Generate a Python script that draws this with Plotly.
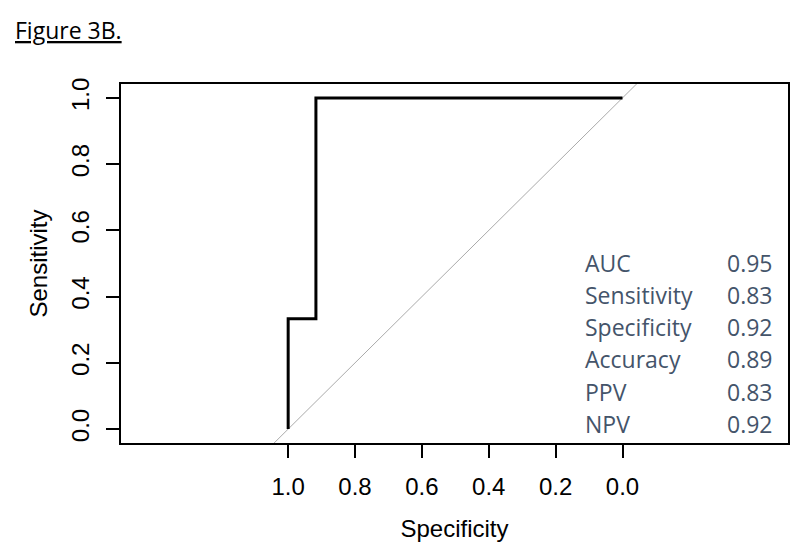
import plotly.graph_objects as go

# ROC curve data (specificity on x, reversed; sensitivity on y)
roc_specificity = [1.0, 1.0, 0.917, 0.917, 0.0]
roc_sensitivity = [0.0, 0.333, 0.333, 1.0, 1.0]

# reference diagonal (sensitivity = 1 - specificity)
diag_specificity = [1.6, -0.6]
diag_sensitivity = [1 - s for s in diag_specificity]

tick_values = [1.0, 0.8, 0.6, 0.4, 0.2, 0.0]
tick_labels = ["1.0", "0.8", "0.6", "0.4", "0.2", "0.0"]
y_tick_values = [0.0, 0.2, 0.4, 0.6, 0.8, 1.0]
y_tick_labels = ["0.0", "0.2", "0.4", "0.6", "0.8", "1.0"]

stat_names = ["AUC", "Sensitivity", "Specificity", "Accuracy", "PPV", "NPV"]
stat_values = ["0.95", "0.83", "0.92", "0.89", "0.83", "0.92"]

fig = go.Figure()
fig.add_trace(go.Scatter(x=diag_specificity, y=diag_sensitivity, mode="lines",
                         line=dict(color="#aaaaaa", width=1), hoverinfo="skip",
                         showlegend=False))
fig.add_trace(go.Scatter(x=roc_specificity, y=roc_sensitivity, mode="lines",
                         line=dict(color="black", width=3), showlegend=False))

axis_font = dict(family="Liberation Sans, Arial", size=24, color="black")
fig.update_xaxes(range=[1.5, -0.495], tickvals=tick_values, ticktext=tick_labels,
                 ticks="outside", ticklen=13, tickwidth=1.5, tickcolor="black",
                 showline=True, linecolor="black", linewidth=1.5, mirror=True,
                 showgrid=False, zeroline=False, tickfont=axis_font, automargin=False,
                 title=dict(text="Specificity", font=axis_font, standoff=22),
                 ticklabelstandoff=8)
fig.update_yaxes(range=[-0.042, 1.042], tickvals=y_tick_values, ticktext=y_tick_labels,
                 ticks="outside", ticklen=13, tickwidth=1.5, tickcolor="black",
                 showline=True, linecolor="black", linewidth=1.5, mirror=True,
                 showgrid=False, zeroline=False, tickfont=axis_font, tickangle=-90,
                 automargin=False,
                 title=dict(text="Sensitivity", font=axis_font, standoff=12),
                 ticklabelstandoff=8)

stat_font = dict(family="Open Sans", size=23, color="#44546A")
row_y0 = 0.503
row_step = 0.0976
for i, (n, v) in enumerate(zip(stat_names, stat_values)):
    yy = row_y0 - i * row_step
    fig.add_annotation(x=0.692, y=yy, xref="paper", yref="y", text=n, showarrow=False,
                       xanchor="left", yanchor="middle", font=stat_font)
    fig.add_annotation(x=0.981, y=yy, xref="paper", yref="y", text=v, showarrow=False,
                       xanchor="right", yanchor="middle", font=stat_font)

fig.add_annotation(x=13, y=30, xref="paper", yref="paper", text="<u>Figure 3B.</u>",
                   showarrow=False, xanchor="left", yanchor="middle",
                   font=dict(family="Open Sans", size=23, color="black"))

fig.update_layout(width=790, height=544, margin=dict(l=121, r=2, t=84, b=101),
                  plot_bgcolor="white", paper_bgcolor="white")

# convert title position from pixels to paper coords
pw, ph = 790 - 121 - 2, 544 - 84 - 101
fig.layout.annotations[-1].x = (13 - 121) / pw
fig.layout.annotations[-1].y = (544 - 101 - 30) / ph

fig.write_html("out.html", config={"displayModeBar": False},
               post_script="document.body.style.margin='0px';")
